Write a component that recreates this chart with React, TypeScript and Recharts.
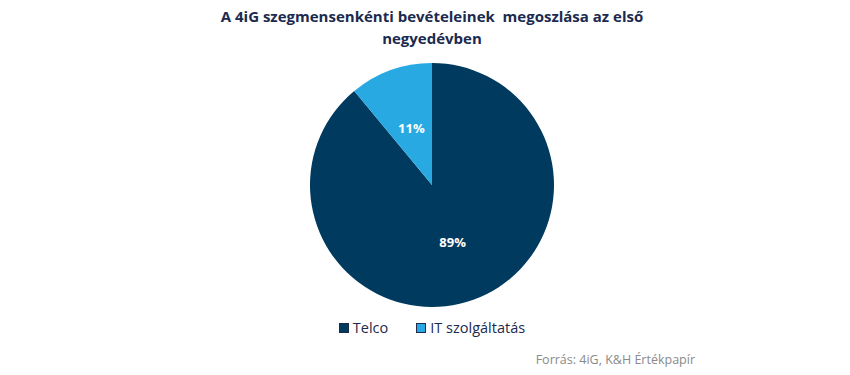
import { PieChart, Pie, Cell, Legend } from "recharts";

const categories = ["Telco", "IT szolgáltatás"];
const shares = [89, 11];
const colors = ["#003A5F", "#29A9E1"];

const data = categories.map((name, i) => ({ name, value: shares[i] }));

const FONT = "'Open Sans', 'DejaVu Sans', sans-serif";
const RAD = Math.PI / 180;

// szeletcímke a sugár felénél
function renderLabel(p: any) {
  const r = p.outerRadius * 0.5;
  const x = p.cx + r * Math.cos(-p.midAngle * RAD);
  const y = p.cy + r * Math.sin(-p.midAngle * RAD);
  return (
    <text x={x} y={y} fill="#fff" fontSize={13} fontWeight={700} fontFamily={FONT} textAnchor="middle" dominantBaseline="central">
      {`${p.value}%`}
    </text>
  );
}

function LegendBox() {
  return (
    <div style={{ display: "flex", justifyContent: "center", gap: 28, fontSize: 14.5, color: "#1B2A4E" }}>
      {categories.map((c, i) => (
        <span key={c} style={{ display: "flex", alignItems: "center", gap: 4 }}>
          <span style={{ width: 8, height: 8, background: colors[i], border: "1px solid #1B2A4E", display: "inline-block" }} />
          {c}
        </span>
      ))}
    </div>
  );
}

export default function App() {
  return (
    <div style={{ position: "absolute", left: 0, top: 0, width: 850, height: 375, background: "#fff", fontFamily: FONT }}>
      <div style={{ position: "absolute", left: 0, top: 5, width: 864, textAlign: "center", color: "#1B2A4E", fontWeight: 700, fontSize: 15, lineHeight: "22px" }}>
        A 4iG szegmensenkénti bevételeinek&nbsp; megoszlása az első
        <br />
        negyedévben
      </div>
      <PieChart width={850} height={375} margin={{ top: 0, right: 0, bottom: 0, left: 0 }}>
        <Pie
          data={data}
          dataKey="value"
          nameKey="name"
          cx={432}
          cy={185}
          outerRadius={122}
          startAngle={90}
          endAngle={-270}
          stroke="none"
          label={renderLabel}
          labelLine={false}
          isAnimationActive={false}
        >
          {data.map((d, i) => (
            <Cell key={d.name} fill={colors[i]} />
          ))}
        </Pie>
        <Legend content={<LegendBox />} wrapperStyle={{ top: 318, left: 0, width: 864 }} />
      </PieChart>
      <div style={{ position: "absolute", right: 155, top: 351, color: "#8A8A8A", fontSize: 12.5 }}>
        Forrás: 4iG, K&amp;H Értékpapír
      </div>
    </div>
  );
}
